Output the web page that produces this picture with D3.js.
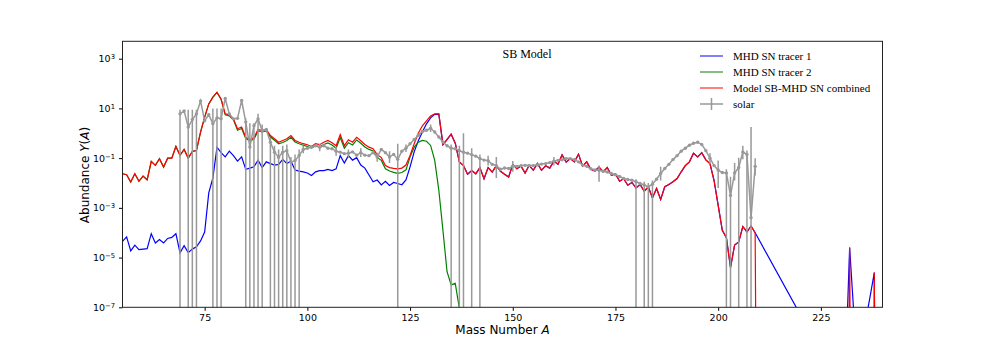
<!DOCTYPE html>
<html>
<head>
<meta charset="utf-8">
<script src="https://cdn.jsdelivr.net/npm/d3@7"></script>
<style>
  body { margin: 0; background: #fff; }
  svg text { font-family: "DejaVu Sans", sans-serif; }
  .serif { font-family: "Liberation Serif", "Times New Roman", serif; }
</style>
</head>
<body>
<svg id="chart" width="981" height="346"></svg>
<script>

// log10 Y(A), model arrays start at A = 55 and run to A = 209
var firstA = 55;

var tracer1Log = [
  -4.35, -4.17, -4.73, -4.5, -4.68, -4.66, -4.64, -4.04, -4.41, -4.27,
  -4.41, -4.23, -4.19, -4.04, -4.81, -4.52, -4.8, -4.66, -4.57, -4.33,
  -3.97, -2.4, -1.8, -0.56, -0.78, -0.95, -0.72, -0.9, -1.12, -0.95,
  -1.45, -1.4, -1.35, -1.08, -1.38, -1.15, -1.22, -1.28, -1.25, -1.05,
  -1.22, -1.12, -1.48, -1.52, -1.55, -1.6, -1.7, -1.55, -1.5, -1.5,
  -1.45, -1.5, -1.43, -0.9, -1.2, -0.9, -1.08, -0.98, -1.28, -1.4,
  -1.68, -1.95, -1.88, -2.08, -1.93, -2.1, -1.98, -2.02, -2.07, -1.88,
  -1.35, -0.75, -0.3, 0.05, 0.38, 0.62, 0.76, 0.77, -0.46, -0.26,
  -0.04, -0.4, -1.15, -1.3, -1.65, -1.5, -1.63, -1.38, -1.83, -1.38,
  -1.56, -1.3, -1.53, -1.65, -1.76, -1.25, -1.43, -1.32, -1.6, -1.29,
  -1.49, -1.21, -1.49, -1.31, -1.4, -1.12, -1.25, -0.87, -1.16, -1.02,
  -1.15, -0.84, -1.32, -1.15, -1.45, -1.52, -1.36, -1.55, -1.38, -1.69,
  -1.64, -1.93, -1.83, -2.09, -1.98, -2.2, -2.06, -2.33, -2.16, -2.6,
  -2.22, -2.66, -2.15, -2.06, -1.95, -1.82, -1.55, -1.3, -1.15, -0.8,
  -0.95, -0.78, -1.07, -1.22, -1.9, -2.9, -3.9, -4.2, -5.4, -4.5,
  -4.37, -3.75, -3.97, -3.73, -4.0
];
// sparse tail of tracer 1 past A = 209 (null = zero abundance)
var tracer1TailA = [220, 231, 232, 233, 236, 237, 238, 239];
var tracer1TailLog = [-7.3, -9.4, -4.6, -7.2, -7.45, -6.55, -5.6, null];

var tracer2Log = [
  -1.63, -1.67, -1.96, -1.63, -1.93, -1.72, -1.87, -1.13, -1.29, -1.02,
  -1.36, -1.0, -1.0, -0.53, -0.89, -0.65, -1.0, -0.73, -0.69, 0.05,
  0.65, 1.18, 1.45, 1.64, 1.36, 0.74, 0.7, 0.54, 0.12, 0.19,
  -0.21, -0.3, -0.24, 0.09, 0.06, 0.09, -0.15, -0.28, -0.42, -0.37,
  -0.29, -0.16, -0.35, -0.42, -0.48, -0.53, -0.6, -0.5, -0.54, -0.45,
  -0.39, -0.47, -0.6, -0.17, -0.6, -0.38, -0.47, -0.27, -0.4, -0.55,
  -0.65, -0.71, -0.97, -1.09, -1.43, -1.52, -1.57, -1.61, -1.58, -1.47,
  -0.95, -0.56, -0.36, -0.29, -0.32, -0.49, -1.09, -2.29, -3.9, -5.57,
  -6.1, -6.04, -7.05, -9
];

var combinedLog = [
  -1.63, -1.67, -1.96, -1.63, -1.93, -1.72, -1.87, -1.13, -1.29, -1.02,
  -1.36, -1.0, -1.0, -0.53, -0.89, -0.65, -1.0, -0.73, -0.69, 0.05,
  0.65, 1.18, 1.45, 1.65, 1.38, 0.78, 0.74, 0.58, 0.18, 0.25,
  -0.16, -0.25, -0.18, 0.15, 0.11, 0.15, -0.09, -0.22, -0.36, -0.29,
  -0.22, -0.09, -0.29, -0.36, -0.42, -0.46, -0.53, -0.42, -0.46, -0.36,
  -0.29, -0.38, -0.5, -0.05, -0.5, -0.26, -0.36, -0.16, -0.3, -0.45,
  -0.56, -0.62, -0.86, -0.98, -1.3, -1.38, -1.41, -1.43, -1.4, -1.28,
  -0.89, -0.42, 0.0, 0.3, 0.5, 0.7, 0.78, 0.78, -0.45, -0.25,
  -0.04, -0.4, -1.15, -1.3, -1.65, -1.5, -1.63, -1.38, -1.83, -1.38,
  -1.56, -1.3, -1.53, -1.65, -1.76, -1.25, -1.43, -1.32, -1.6, -1.29,
  -1.49, -1.21, -1.49, -1.31, -1.4, -1.12, -1.25, -0.87, -1.16, -1.02,
  -1.15, -0.84, -1.32, -1.15, -1.45, -1.52, -1.36, -1.55, -1.38, -1.69,
  -1.64, -1.93, -1.83, -2.09, -1.98, -2.2, -2.06, -2.33, -2.16, -2.6,
  -2.22, -2.66, -2.15, -2.06, -1.95, -1.82, -1.55, -1.3, -1.15, -0.8,
  -0.95, -0.78, -1.07, -1.22, -1.9, -2.9, -3.9, -4.2, -5.4, -4.5,
  -4.37, -3.75, -3.97, -3.73, -4.0
];
var combinedTailA = [210, 231, 232, 233, 237, 238, 239];
var combinedTailLog = [null, null, -4.6, null, null, -5.6, null];

// solar abundances, A = 69..209
var solarFirstA = 69;
var solarLog = [
  0.78, 0.9, 0.25, 0.55, 0.78, 1.3, 0.5, 0.75, 0.38, 0.62,
  0.58, 1.4, 0.78, 0.58, 0.6, 1.32, 0.45, -0.55, 0.3, 0.58,
  0.1, 0.15, -0.36, -0.76, -0.96, -0.76, -0.7, -1.16, -1.1, -0.89,
  -0.65, -0.6, -0.55, -0.5, -0.56, -0.5, -0.6, -0.62, -0.72, -0.76,
  -0.82, -0.8, -0.75, -0.88, -0.78, -0.88, -0.9, -0.78, -0.95, -0.65,
  -0.78, -0.95, -0.85, -1.05, -0.72, -0.6, -0.42, -0.25, -0.08, 0.07,
  0.12, 0.2, 0.05, -0.15, -0.35, -0.5, -0.6, -0.62, -0.7, -0.76,
  -0.8, -0.86, -0.92, -1.02, -1.08, -1.1, -1.25, -1.3, -1.45, -1.4,
  -1.42, -1.32, -1.33, -1.3, -1.29, -1.3, -1.3, -1.27, -1.24, -1.22,
  -1.18, -1.12, -1.09, -1.07, -1.02, -1.02, -1.06, -1.15, -1.28, -1.33,
  -1.43, -1.48, -1.49, -1.53, -1.56, -1.62, -1.67, -1.74, -1.82, -1.86,
  -1.89, -1.95, -2.02, -2.08, -2.16, -2.05, -1.85, -1.62, -1.42, -1.25,
  -1.06, -0.9, -0.72, -0.6, -0.48, -0.4, -0.36, -0.45, -0.7, -1.0,
  -1.3, -1.48, -1.58, -1.6, -2.5, -1.6, -1.38, -0.75, -0.85, -3.4,
  -1.33
];
// visible solar error bars (log10 low / high, null low = below zero)
var errA  = [69, 71, 72, 73, 77, 78, 79, 85, 86, 87, 88, 89, 91, 92, 93, 94, 95, 96, 97, 98,
             99, 103, 107, 110, 113, 117, 120, 122, 124, 130, 135, 137, 138, 140, 142, 144, 146, 150,
             160, 171, 180, 182, 183, 184, 186, 198, 200, 202, 203, 204, 205, 206, 207, 208, 209];
var errLo = [null, null, null, null, null, null, null, null, null, null, null, null, null, null, null, null, null, null, null, null,
             -0.8, -0.72, -0.9, -0.98, -0.95, -1.15, -1.2, null, -0.75, 0.05, null, null, null, null, null, -1.3, -1.8, -1.55,
             -1.3, -1.95, null, null, null, null, -1.9, -1.25, -2.2, null, null, -1.9, null, -1.05, null, null, -1.7];
var errHi = [0.95, 0.95, 0.95, 0.95, 1.0, 1.0, 1.0, 0.6, 0.4, 0.4, 0.78, 0.35, -0.2, -0.5, -0.65, -0.5, -0.45, -0.95, -0.85, -0.65,
             -0.5, -0.42, -0.55, -0.65, -0.6, -0.78, -0.72, -0.42, -0.45, 0.35, -0.45, -0.5, 0.0, -0.6, -0.85, -0.9, -0.95, -1.12,
             -0.95, -1.3, -1.85, -1.95, -2.0, -1.9, -1.35, -0.8, -1.1, -1.45, -1.75, -1.2, -0.98, -0.5, -0.69, 0.25, -1.0];

var xTicks = [75, 100, 125, 150, 175, 200, 225];
var yTicks = [3, 1, -1, -3, -5, -7];

var legendItems = [
  {name: "MHD SN tracer 1", color: "blue"},
  {name: "MHD SN tracer 2", color: "green"},
  {name: "Model SB-MHD SN combined", color: "red"},
  {name: "solar", color: "#999"}
];

var margin = {top: 41.3, right: 98.5, bottom: 38.7, left: 122.5},
    width = 981 - margin.left - margin.right,
    height = 346 - margin.top - margin.bottom;

var svg = d3.select("#chart");
var g = svg.append("g")
    .attr("transform", "translate(" + margin.left + "," + margin.top + ")");

var x = d3.scaleLinear().domain([55, 240]).range([0, width]);
var y = d3.scaleLog().domain([1e-7, 5e3]).range([height, 0]);

// zeros behave like matplotlib's clip: drop straight off the bottom
function yOf(e) { return e === null ? y(1e-30) : y(Math.pow(10, e)); }

function series(logs, start) {
  return logs.map(function(e, i) { return {a: start + i, e: e}; });
}
function tail(as, logs) {
  return as.map(function(a, i) { return {a: a, e: logs[i]}; });
}

g.append("clipPath").attr("id", "clip")
  .append("rect").attr("width", width).attr("height", height);

var plot = g.append("g").attr("clip-path", "url(#clip)");

var line = d3.line()
    .x(function(d) { return x(d.a); })
    .y(function(d) { return yOf(d.e); });

var modelLines = [
  {data: series(tracer1Log, firstA).concat(tail(tracer1TailA, tracer1TailLog)), color: "blue"},
  {data: series(tracer2Log, firstA), color: "green"},
  {data: series(combinedLog, firstA).concat(tail(combinedTailA, combinedTailLog)), color: "red"}
];

plot.selectAll(".model")
  .data(modelLines)
  .enter().append("path")
    .attr("class", "model")
    .attr("d", function(d) { return line(d.data); })
    .attr("fill", "none")
    .attr("stroke", function(d) { return d.color; })
    .attr("stroke-width", 1.2);

// solar
var solar = series(solarLog, solarFirstA);

plot.append("path")
  .attr("d", line(solar))
  .attr("fill", "none")
  .attr("stroke", "#999")
  .attr("stroke-width", 1.5);

plot.selectAll(".err")
  .data(errA)
  .enter().append("line")
    .attr("class", "err")
    .attr("x1", function(d) { return x(d); })
    .attr("x2", function(d) { return x(d); })
    .attr("y1", function(d, i) { return yOf(errLo[i]); })
    .attr("y2", function(d, i) { return yOf(errHi[i]); })
    .attr("stroke", "#999")
    .attr("stroke-width", 1.5);

plot.selectAll(".dot")
  .data(solar)
  .enter().append("circle")
    .attr("class", "dot")
    .attr("cx", function(d) { return x(d.a); })
    .attr("cy", function(d) { return yOf(d.e); })
    .attr("r", 1.7)
    .attr("fill", "#999");

// axes
var xAxis = g.append("g")
    .attr("transform", "translate(0," + height + ")")
    .call(d3.axisBottom(x).tickValues(xTicks).tickSize(3.5).tickPadding(3.5));
xAxis.select(".domain").remove();
xAxis.selectAll("text").attr("font-size", 9.5).attr("fill", "#000");

var yAxis = g.append("g")
    .call(d3.axisLeft(y).tickValues(yTicks.map(function(e) { return Math.pow(10, e); }))
      .tickSize(3.5).tickPadding(4).tickFormat(""));
yAxis.select(".domain").remove();
yAxis.selectAll(".tick text")
    .attr("font-size", 9.5)
    .attr("fill", "#000")
    .each(function(d) {
      var e = Math.round(Math.log10(d));
      var t = d3.select(this);
      t.text("10");
      t.append("tspan")
        .attr("dy", "-0.45em")
        .attr("font-size", 6.8)
        .text(e < 0 ? "\u2212" + (-e) : e);
    });

g.append("rect")
  .attr("width", width)
  .attr("height", height)
  .attr("fill", "none")
  .attr("stroke", "#222")
  .attr("stroke-width", 1);

// labels
var xl = svg.append("text")
    .attr("x", margin.left + width / 2)
    .attr("y", 334)
    .attr("text-anchor", "middle")
    .attr("font-size", 12);
xl.append("tspan").text("Mass Number ");
xl.append("tspan").attr("font-style", "italic").text("A");

var yl = svg.append("text")
    .attr("transform", "translate(89,175) rotate(-90)")
    .attr("text-anchor", "middle")
    .attr("font-size", 12);
yl.append("tspan").text("Abundance ");
yl.append("tspan").attr("font-style", "italic").text("Y");
yl.append("tspan").text("(");
yl.append("tspan").attr("font-style", "italic").text("A");
yl.append("tspan").text(")");

svg.append("text")
  .attr("class", "serif")
  .attr("x", 527)
  .attr("y", 58)
  .attr("text-anchor", "middle")
  .attr("font-size", 12)
  .text("SB Model");

// legend
var legend = svg.append("g").attr("transform", "translate(700,56)");
var item = legend.selectAll(".item")
  .data(legendItems)
  .enter().append("g")
    .attr("class", "item")
    .attr("transform", function(d, i) { return "translate(0," + (i * 16) + ")"; });

item.append("line")
  .attr("x1", 0).attr("x2", 23)
  .attr("stroke", function(d) { return d.color; })
  .attr("stroke-width", function(d, i) { return i == 3 ? 1.5 : 1; });

item.filter(function(d, i) { return i == 3; })
  .append("line")
    .attr("x1", 11.5).attr("x2", 11.5)
    .attr("y1", -6).attr("y2", 6)
    .attr("stroke", "#999")
    .attr("stroke-width", 1.5);

item.append("text")
  .attr("class", "serif")
  .attr("x", 33)
  .attr("dy", "0.35em")
  .attr("font-size", 11)
  .text(function(d) { return d.name; });

</script>
</body>
</html>
